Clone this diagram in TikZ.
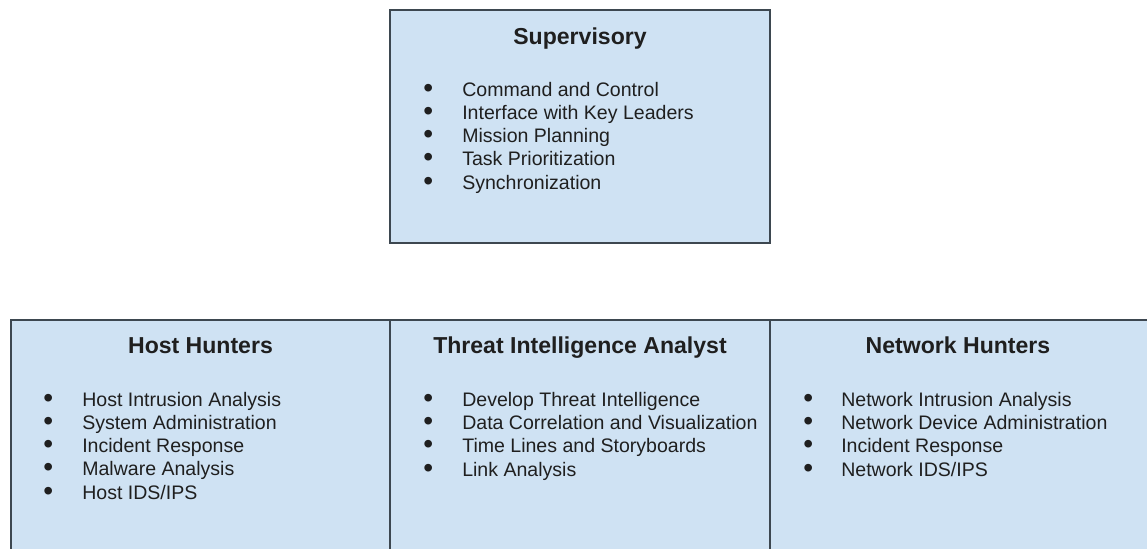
\documentclass[tikz,border=0pt]{standalone}
\usepackage{fontspec}
\setmainfont{Liberation Sans}
\usepackage{tikz}

\definecolor{boxfill}{HTML}{CFE2F3}
\definecolor{boxline}{HTML}{3D4750}
\definecolor{ink}{HTML}{1F1F1F}

\tikzset{
	panel/.style={draw=boxline, fill=boxfill, line width=1.1pt, inner sep=0pt},
	title/.style={anchor=base, text=ink, font=\bfseries\fontsize{16.4}{19}\selectfont},
	items/.style={anchor=base west, align=left, inner sep=0pt, text=ink,
		font=\fontsize{13.9}{16.5}\selectfont},
	dots/.style={items, font=\fontsize{20}{16.5}\selectfont},
}

% base anchor sits on the last line, so nodes go at the last baseline
\begin{document}
\begin{tikzpicture}[x=0.025cm, y=-0.025cm]
	\clip (0,0) rectangle (1147,548);

	% boxes
	\node [panel, minimum width=9.5cm, minimum height=5.825cm] (sup) at (580,126.5) {};
	\node [panel, minimum width=9.475cm, minimum height=6cm] (host) at (200.5,440) {};
	\node [panel, minimum width=9.5cm, minimum height=6cm] (cti) at (580,440) {};
	\node [panel, minimum width=9.75cm, minimum height=6cm] (net) at (965,440) {};

	% supervisory
	\node [title] (sup-title) at (580,44)	{Supervisory};
	\node [dots] (sup-dots) at (423,190)	{\textbullet\\\textbullet\\\textbullet\\\textbullet\\\textbullet};
	\node [items] (sup-list) at (462,189)	{Command and Control\\Interface with Key Leaders\\Mission Planning\\Task Prioritization\\Synchronization};

	% host hunters
	\node [title] (host-title) at (200.5,353)	{Host Hunters};
	\node [dots] (host-dots) at (43,500)	{\textbullet\\\textbullet\\\textbullet\\\textbullet\\\textbullet};
	\node [items] (host-list) at (82,499)	{Host Intrusion Analysis\\System Administration\\Incident Response\\Malware Analysis\\Host IDS/IPS};

	% threat intelligence
	\node [title] (cti-title) at (580,353)	{Threat Intelligence Analyst};
	\node [dots] (cti-dots) at (423,477)	{\textbullet\\\textbullet\\\textbullet\\\textbullet};
	\node [items] (cti-list) at (462,476)	{Develop Threat Intelligence\\Data Correlation and Visualization\\Time Lines and Storyboards\\Link Analysis};

	% network hunters
	\node [title] (net-title) at (958,353)	{Network Hunters};
	\node [dots] (net-dots) at (803,477)	{\textbullet\\\textbullet\\\textbullet\\\textbullet};
	\node [items] (net-list) at (841,476)	{Network Intrusion Analysis\\Network Device Administration\\Incident Response\\Network IDS/IPS};
\end{tikzpicture}
\end{document}
